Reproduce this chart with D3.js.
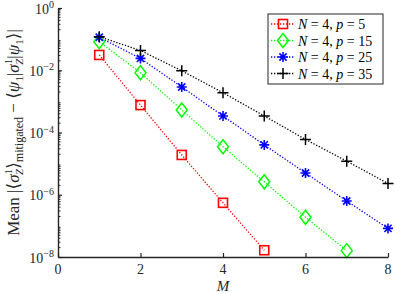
<!DOCTYPE html>
<html>
<head>
<meta charset="utf-8">
<script src="https://cdn.jsdelivr.net/npm/d3@7"></script>
<style>
body { margin: 0; background: #fff; }
text { font-family: "Liberation Serif", "DejaVu Serif", serif; }
</style>
</head>
<body>
<div id="chart"></div>
<script>
// values
var mValues = [1, 2, 3, 4, 5, 6, 7, 8];
var p5 = [3.1e-2, 7.6e-4, 1.9e-5, 5.5e-7, 1.65e-8];
var p15 = [8.3e-2, 8.3e-3, 5.3e-4, 3.5e-5, 2.6e-6, 1.9e-7, 1.6e-8];
var p25 = [1.15e-1, 2.4e-2, 2.9e-3, 3.4e-4, 4.0e-5, 5.0e-6, 6.3e-7, 8.3e-8];
var p35 = [1.2e-1, 4.3e-2, 9.6e-3, 1.9e-3, 3.4e-4, 6.0e-5, 1.2e-5, 2.3e-6];
var seriesP = ["5", "15", "25", "35"];
var xTicks = [0, 2, 4, 6, 8];
var yExps = [0, -2, -4, -6, -8];

var series = [
	{ p: seriesP[0], values: p5, color: "#ff0000", marker: "square" },
	{ p: seriesP[1], values: p15, color: "#00ff00", marker: "diamond" },
	{ p: seriesP[2], values: p25, color: "#0000ff", marker: "asterisk" },
	{ p: seriesP[3], values: p35, color: "#000000", marker: "plus" }
];

var width = 395, height = 294;
var margin = { left: 58, right: 7, top: 8, bottom: 37 };

var svg = d3.select("#chart").append("svg")
	.attr("width", width)
	.attr("height", height);

var x = d3.scaleLinear().domain([0, 8]).range([margin.left, width - margin.right]);
var y = d3.scaleLog().domain([1e-8, 1]).range([height - margin.bottom, margin.top]);

// dotted lines
var line = d3.line()
	.x(function(d, i) { return x(mValues[i]); })
	.y(function(d) { return y(d); });

series.forEach(function(s) {
	svg.append("path")
		.datum(s.values)
		.attr("d", line)
		.attr("fill", "none")
		.attr("stroke", s.color)
		.attr("stroke-width", 1.3)
		.attr("stroke-dasharray", "1.3,1.7");
});

function drawMarker(g, type, color) {
	if (type == "square") {
		g.append("rect").attr("x", -4.5).attr("y", -4.5).attr("width", 9).attr("height", 9)
			.attr("fill", "none").attr("stroke", color).attr("stroke-width", 1.6);
	} else if (type == "diamond") {
		g.append("path").attr("d", "M0,-7L5.5,0L0,7L-5.5,0Z")
			.attr("fill", "none").attr("stroke", color).attr("stroke-width", 1.5);
	} else if (type == "asterisk") {
		g.append("path").attr("d", "M-5,0H5M0,-5V5M-3.6,-3.6L3.6,3.6M-3.6,3.6L3.6,-3.6")
			.attr("stroke", color).attr("stroke-width", 1.6);
	} else {
		g.append("path").attr("d", "M-5.5,0H5.5M0,-5.5V5.5")
			.attr("stroke", color).attr("stroke-width", 1.5);
	}
}

series.forEach(function(s) {
	s.values.forEach(function(v, i) {
		var g = svg.append("g").attr("transform", "translate(" + x(mValues[i]) + "," + y(v) + ")");
		drawMarker(g, s.marker, s.color);
	});
});

// axes (MATLAB style, ticks inward, no box)
var axisColor = "#262626";
var xAxis = svg.append("g").attr("transform", "translate(0," + (height - margin.bottom) + ")")
	.call(d3.axisBottom(x).tickValues(xTicks).tickSizeInner(-4).tickSizeOuter(0).tickFormat(""));
var yAxis = svg.append("g").attr("transform", "translate(" + margin.left + ",0)")
	.call(d3.axisLeft(y).tickValues(yExps.map(function(e) { return Math.pow(10, e); }))
		.tickSizeInner(-4).tickSizeOuter(0).tickFormat(""));

// minor ticks on log axis
var minor = [];
for (var e = -8; e < 0; e++) {
	for (var k = 2; k <= 9; k++) minor.push(k * Math.pow(10, e));
}
svg.append("g").selectAll("line").data(minor).enter().append("line")
	.attr("x1", margin.left).attr("x2", margin.left + 2.5)
	.attr("y1", function(d) { return y(d); }).attr("y2", function(d) { return y(d); })
	.attr("stroke", axisColor).attr("stroke-width", 1);

[xAxis, yAxis].forEach(function(a) {
	a.select(".domain").attr("stroke", axisColor).attr("stroke-width", 1.4);
	a.selectAll(".tick line").attr("stroke", axisColor).attr("stroke-width", 1.2);
});

// tick labels
svg.append("g").selectAll("text").data(xTicks).enter().append("text")
	.attr("x", function(d) { return x(d); })
	.attr("y", height - margin.bottom + 17)
	.attr("text-anchor", "middle")
	.attr("font-size", 14)
	.attr("fill", axisColor)
	.text(function(d) { return d; });

var yl = svg.append("g").selectAll("text").data(yExps).enter().append("text")
	.attr("x", margin.left - 4)
	.attr("y", function(d) { return y(Math.pow(10, d)) + 5.5; })
	.attr("text-anchor", "end")
	.attr("font-size", 14)
	.attr("fill", axisColor);
yl.append("tspan").text("10");
yl.append("tspan").attr("dy", -5.5).attr("font-size", 10)
	.text(function(d) { return d == 0 ? "0" : "\u2212" + (-d); });

// axis titles
svg.append("text")
	.attr("x", x(4))
	.attr("y", height - 3)
	.attr("text-anchor", "middle")
	.attr("font-size", 15)
	.attr("font-style", "italic")
	.attr("fill", axisColor)
	.text("M");

var yt = svg.append("text")
	.attr("transform", "translate(19," + ((margin.top + height - margin.bottom) / 2) + ") rotate(-90)")
	.attr("text-anchor", "middle")
	.attr("font-size", 17)
	.attr("fill", axisColor);
yt.append("tspan").text("Mean |\u27E8");
yt.append("tspan").attr("font-style", "italic").text("\u03C3");
yt.append("tspan").attr("font-size", 11).attr("dy", -7).text("1");
yt.append("tspan").attr("font-size", 11).attr("font-style", "italic").attr("dx", -6).attr("dy", 11).text("Z");
yt.append("tspan").attr("dy", -4).text("\u27E9");
yt.append("tspan").attr("font-size", 12).attr("dy", 4).text("mitigated");
yt.append("tspan").attr("dy", -4).text(" \u2212 \u27E8");
yt.append("tspan").attr("font-style", "italic").text("\u03C8");
yt.append("tspan").attr("font-size", 11).attr("dy", 4).text("1");
yt.append("tspan").attr("dy", -4).text("|");
yt.append("tspan").attr("font-style", "italic").text("\u03C3");
yt.append("tspan").attr("font-size", 11).attr("dy", -7).text("1");
yt.append("tspan").attr("font-size", 11).attr("font-style", "italic").attr("dx", -6).attr("dy", 11).text("Z");
yt.append("tspan").attr("dy", -4).text("|");
yt.append("tspan").attr("font-style", "italic").text("\u03C8");
yt.append("tspan").attr("font-size", 11).attr("dy", 4).text("1");
yt.append("tspan").attr("dy", -4).text("\u27E9|");

// legend
var lg = svg.append("g").attr("transform", "translate(268,14)");
lg.append("rect").attr("width", 115).attr("height", 70)
	.attr("fill", "#fff").attr("stroke", axisColor).attr("stroke-width", 1);
series.forEach(function(s, i) {
	var yy = 10 + i * 16.5;
	lg.append("line").attr("x1", 3).attr("x2", 27).attr("y1", yy).attr("y2", yy)
		.attr("stroke", s.color).attr("stroke-width", 1.3).attr("stroke-dasharray", "1.3,1.7");
	drawMarker(lg.append("g").attr("transform", "translate(15," + yy + ")"), s.marker, s.color);
	var t = lg.append("text").attr("x", 30).attr("y", yy + 5).attr("font-size", 14).attr("fill", "#000");
	t.append("tspan").attr("font-style", "italic").text("N");
	t.append("tspan").text(" = 4, ");
	t.append("tspan").attr("font-style", "italic").text("p");
	t.append("tspan").text(" = " + s.p);
});
</script>
</body>
</html>
